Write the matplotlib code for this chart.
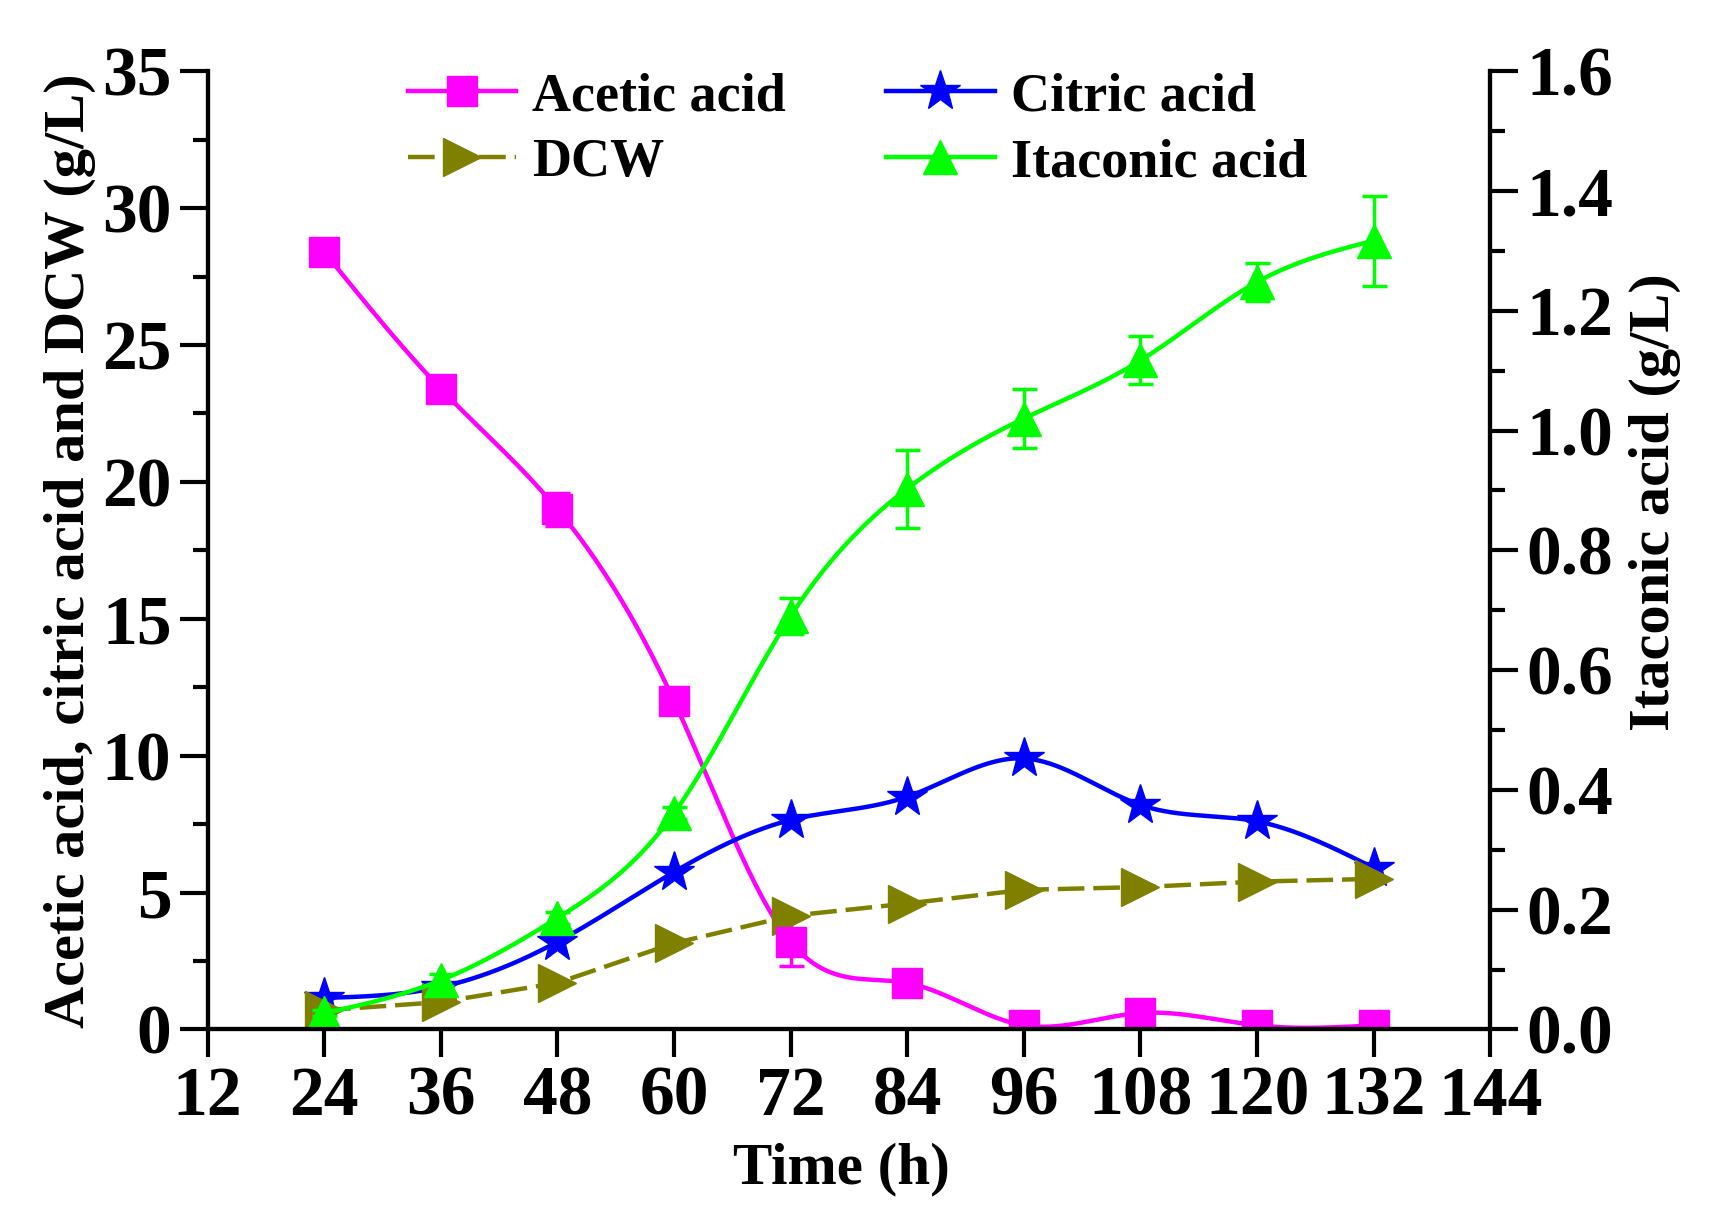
import numpy as np
import matplotlib
matplotlib.use("Agg")
import matplotlib.pyplot as plt
from matplotlib.ticker import MultipleLocator
from matplotlib.lines import Line2D

plt.rcParams['font.family'] = ['Liberation Serif', 'DejaVu Serif']
plt.rcParams['font.weight'] = 'bold'

time_h = [24, 36, 48, 60, 72, 84, 96, 108, 120, 132]
acetic = [28.4, 23.4, 19.0, 12.0, 3.2, 1.7, 0.15, 0.6, 0.15, 0.15]
acetic_err = [0.4, 0.2, 0.6, 0.3, 0.9, 0.2, 0.1, 0.2, 0.1, 0.1]
citric = [1.15, 1.55, 3.2, 5.75, 7.65, 8.5, 9.9, 8.2, 7.6, 5.9]
dcw = [0.7, 1.0, 1.7, 3.15, 4.15, 4.6, 5.1, 5.2, 5.4, 5.5]
itaconic = [0.027, 0.082, 0.186, 0.361, 0.69, 0.903, 1.02, 1.117, 1.248, 1.317]
itaconic_err = [0.005, 0.01, 0.01, 0.01, 0.03, 0.065, 0.05, 0.04, 0.032, 0.075]


def natural_spline(x, y, n=400):
    x = np.asarray(x, float)
    y = np.asarray(y, float)
    m = len(x)
    h = np.diff(x)
    A = np.zeros((m, m))
    b = np.zeros(m)
    A[0, 0] = 1
    A[-1, -1] = 1
    for i in range(1, m - 1):
        A[i, i - 1] = h[i - 1]
        A[i, i] = 2 * (h[i - 1] + h[i])
        A[i, i + 1] = h[i]
        b[i] = 3 * ((y[i + 1] - y[i]) / h[i] - (y[i] - y[i - 1]) / h[i - 1])
    c = np.linalg.solve(A, b)
    xs = np.linspace(x[0], x[-1], n)
    ys = np.empty_like(xs)
    for k, xv in enumerate(xs):
        i = min(np.searchsorted(x, xv, side='right') - 1, m - 2)
        dx = xv - x[i]
        bi = (y[i + 1] - y[i]) / h[i] - h[i] * (2 * c[i] + c[i + 1]) / 3
        di = (c[i + 1] - c[i]) / (3 * h[i])
        ys[k] = y[i] + bi * dx + c[i] * dx ** 2 + di * dx ** 3
    return xs, ys


fig = plt.figure(figsize=(17.15, 12.27), dpi=100)
ax = fig.add_axes([0.121, 0.161, 0.748, 0.781])
ax2 = ax.twinx()

c_ac = '#FF00FF'
c_ci = '#0000FF'
c_dc = '#808000'
c_it = '#00FF00'
lw = 3.2
ms_s, ms_st, ms_r, ms_t = 22, 30, 27, 25

# Acetic acid
xs, ys = natural_spline(time_h, acetic)
ax.plot(xs, ys, color=c_ac, lw=lw)
ax.errorbar(time_h, acetic, yerr=acetic_err, fmt='s', color=c_ac, ms=ms_s,
            elinewidth=2.5, capsize=9, capthick=2.5)
# Citric acid
xs, ys = natural_spline(time_h, citric)
ax.plot(xs, ys, color=c_ci, lw=lw)
ax.plot(time_h, citric, '*', color=c_ci, ms=ms_st)
# DCW
ax.plot(time_h, dcw, color=c_dc, lw=lw, ls=(0, (6, 2)))
ax.plot(time_h, dcw, '>', color=c_dc, ms=ms_r)
# Itaconic acid
xs, ys = natural_spline(time_h, itaconic)
ax2.plot(xs, ys, color=c_it, lw=lw)
ax2.errorbar(time_h, itaconic, yerr=itaconic_err, fmt='^', color=c_it, ms=ms_t,
             elinewidth=2.5, capsize=9, capthick=2.5)

ax.set_xlim(12, 144)
ax.set_ylim(0, 35)
ax2.set_ylim(0, 1.6)
ax.xaxis.set_major_locator(MultipleLocator(12))
ax.yaxis.set_major_locator(MultipleLocator(5))
ax.yaxis.set_minor_locator(MultipleLocator(2.5))
ax2.yaxis.set_major_locator(MultipleLocator(0.2))
ax2.yaxis.set_minor_locator(MultipleLocator(0.1))
ax2.yaxis.set_major_formatter(matplotlib.ticker.FormatStrFormatter('%.1f'))

for a in (ax, ax2):
    a.spines['top'].set_visible(False)
    for s in a.spines.values():
        s.set_linewidth(3)
    a.tick_params(axis='both', which='major', direction='out', length=20, width=3,
                  labelsize=50, pad=6)
    a.tick_params(axis='both', which='minor', direction='out', length=11, width=3)
    for t in a.get_xticklabels() + a.get_yticklabels():
        t.set_fontweight('bold')

ax.set_xlabel('Time (h)', fontsize=42.5, fontweight='bold')
ax.xaxis.set_label_coords(0.494, -0.118)
ax.set_ylabel('Acetic acid, citric acid and DCW (g/L)', fontsize=42,
              fontweight='bold', labelpad=4)
ax2.set_ylabel('Itaconic acid (g/L)', fontsize=42, fontweight='bold',
               rotation=90)
ax2.yaxis.set_label_coords(1.108, 0.55)

h_ac = Line2D([], [], color=c_ac, lw=lw, marker='s', ms=ms_s)
h_ci = Line2D([], [], color=c_ci, lw=lw, marker='*', ms=ms_st)
h_dc = Line2D([], [], color=c_dc, lw=lw, marker='>', ms=ms_r, ls=(0, (6, 2)))
h_it = Line2D([], [], color=c_it, lw=lw, marker='^', ms=ms_t)
leg = ax.legend([h_ac, h_dc, h_ci, h_it],
                ['Acetic acid', 'DCW', 'Citric acid', 'Itaconic acid'],
                ncol=2, loc='upper left', bbox_to_anchor=(0.118, 1.05),
                frameon=False, prop={'family': 'Liberation Serif', 'weight': 'bold', 'size': 39},
                handlelength=2.0, handletextpad=0.3, columnspacing=1.85, labelspacing=0.3)
leg.set_zorder(10)

fig.savefig('out.png', dpi=100)
